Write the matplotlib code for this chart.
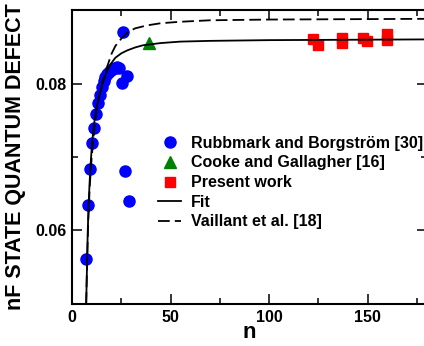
import numpy as np
import matplotlib
matplotlib.use('Agg')
import matplotlib.pyplot as plt
from matplotlib.ticker import MultipleLocator

plt.rcParams['font.family'] = ['Liberation Sans', 'DejaVu Sans']
plt.rcParams['font.weight'] = 'bold'

# Rubbmark and Borgström [30]
n_rb = [7, 8, 9, 10, 11, 12, 13, 14, 15, 16, 17, 18, 19, 20, 21, 22, 23, 24,
        25.4, 26, 27, 28, 29]
d_rb = [0.0561, 0.0635, 0.0683, 0.0719, 0.0740, 0.0759, 0.0774, 0.0785, 0.0795,
        0.0803, 0.0809, 0.0813, 0.0816, 0.0819, 0.0820, 0.0821, 0.0822, 0.0821,
        0.0800, 0.0870, 0.0681, 0.0810, 0.0640]

# Cooke and Gallagher [16]
n_cg = [39]
d_cg = [0.0855]

# Present work
n_pw = [122.5, 124.7, 136.9, 137, 147.9, 149.6, 159.7, 159.7]
d_pw = [0.0861, 0.0853, 0.0862, 0.0855, 0.0862, 0.0858, 0.0867, 0.0859]

# Fit
n_fit = [7.2, 7.6, 8.0, 8.5, 9.2, 10.2, 11.2, 12.3, 13.7, 15.5, 17.5, 19.5, 22,
         25, 28, 32, 36, 45, 55, 70, 100, 180]
d_fit = [0.050, 0.055, 0.060, 0.064, 0.068, 0.072, 0.0745, 0.0765, 0.0782,
         0.0800, 0.0815, 0.0826, 0.0835, 0.0841, 0.0845, 0.0849, 0.0852, 0.0855,
         0.0857, 0.0858, 0.0859, 0.0860]

# Vaillant et al. [18]
n_va = [7.2, 7.7, 8.2, 9.0, 10, 11.2, 12.5, 14, 15.5, 17.5, 20, 22, 25, 28, 32,
        38, 45, 55, 70, 100, 180]
d_va = [0.050, 0.056, 0.061, 0.066, 0.070, 0.0735, 0.0765, 0.0785, 0.0803,
        0.0820, 0.0840, 0.0851, 0.0861, 0.0869, 0.0875, 0.0879, 0.0882, 0.0884,
        0.0886, 0.0887, 0.0888]

fig = plt.figure(figsize=(4.24, 3.46), dpi=100)
ax = fig.add_axes([72/424, 42/346, 354.6/424, 294/346])

ax.plot(n_rb, d_rb, 'o', color='blue', ms=8, mec='blue', label='Rubbmark and Borgström [30]')
ax.plot(n_cg, d_cg, '^', color='green', ms=8, mec='green', label='Cooke and Gallagher [16]')
ax.plot(n_pw, d_pw, 's', color='red', ms=7, mec='red', label='Present work')
ax.plot(n_fit, d_fit, '-', color='black', lw=1.3, label='Fit')
ax.plot(n_va, d_va, '--', color='black', lw=1.3, dashes=(6.5, 2.8), label='Vaillant et al. [18]')

ax.set_xlim(0, 180)
ax.set_ylim(0.05, 0.09)
ax.xaxis.set_major_locator(MultipleLocator(50))
ax.xaxis.set_minor_locator(MultipleLocator(25))
ax.yaxis.set_major_locator(MultipleLocator(0.02))
ax.yaxis.set_minor_locator(MultipleLocator(0.01))
ax.yaxis.set_major_formatter(plt.FormatStrFormatter('%.2f'))

ax.tick_params(which='both', direction='in', top=True, right=True, labelsize=11.5, width=1.1)
ax.tick_params(which='major', length=7.5, pad=4)
ax.tick_params(which='minor', length=4)
for s in ax.spines.values():
    s.set_linewidth(1.5)

ax.set_xlabel('n', fontsize=16, fontweight='bold', labelpad=-2)
ax.set_ylabel('nF STATE QUANTUM DEFECT', fontsize=15.5, fontweight='bold')
ax.yaxis.set_label_coords(-0.13, 0.5)

ax.legend(loc='upper left', bbox_to_anchor=(0.2425, 0.572), frameon=False,
          borderpad=0, borderaxespad=0, handlelength=1.45, handletextpad=0.6,
          labelspacing=0.29, prop={'size': 11.5, 'weight': 'bold'})

fig.savefig('out.png', dpi=100)
